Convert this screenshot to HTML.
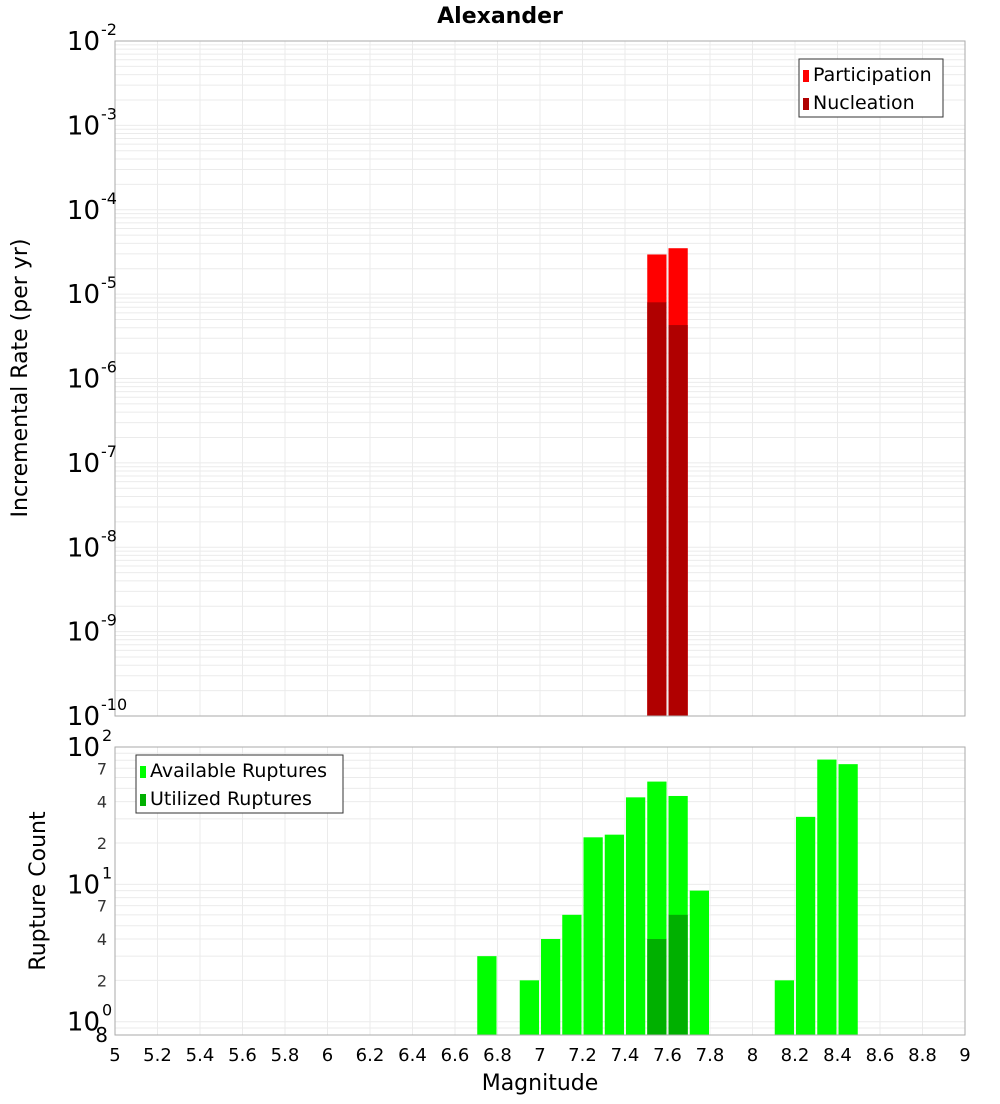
<!DOCTYPE html>
<html><head><meta charset="utf-8"><style>
body{margin:0;background:#fff;font-family:"DejaVu Sans","Liberation Sans",sans-serif}
svg text{font-family:"DejaVu Sans","Liberation Sans",sans-serif}
</style></head><body>
<svg id="c" width="1000" height="1100" xmlns="http://www.w3.org/2000/svg">
<text x="500" y="23" text-anchor="middle" font-size="22" font-weight="bold">Alexander</text>
<text transform="translate(27,378) rotate(-90)" text-anchor="middle" font-size="22">Incremental Rate (per yr)</text>
<text transform="translate(45,891) rotate(-90)" text-anchor="middle" font-size="22">Rupture Count</text>
<text x="540" y="1090" text-anchor="middle" font-size="22">Magnitude</text>
<g id="g"></g>
</svg>
<script>
const binCenters=[7.55,7.65];
const participation=[2.95e-5,3.5e-5];
const nucleation=[8e-6,4.3e-6];
const countMags=[6.75,6.95,7.05,7.15,7.25,7.35,7.45,7.55,7.65,7.75,8.15,8.25,8.35,8.45];
const available=[3,2,4,6,22,23,43,56,44,9,2,31,81,75];
const utilMags=[7.55,7.65];
const utilized=[4,6];
const xTicks=[5,5.2,5.4,5.6,5.8,6,6.2,6.4,6.6,6.8,7,7.2,7.4,7.6,7.8,8,8.2,8.4,8.6,8.8,9];
const topExp=[-10,-9,-8,-7,-6,-5,-4,-3,-2];
const botMinor=[2,4,7,20,40,70];

const NS='http://www.w3.org/2000/svg';
const g=document.getElementById('g');
const L=115,R=965,T1=41,B1=716,T2=747,B2=1035;
const X=m=>L+(m-5)/4*(R-L);
const Y1=v=>B1-(Math.log10(v)+10)/8*(B1-T1);
const bLo=Math.log10(0.8),bHi=2;
const Y2=v=>B2-(Math.log10(v)-bLo)/(bHi-bLo)*(B2-T2);
function el(t,a,txt){const e=document.createElementNS(NS,t);for(const k in a)e.setAttribute(k,a[k]);if(txt!==undefined)e.textContent=txt;g.appendChild(e);return e;}
el('rect',{x:L,y:T1,width:R-L,height:B1-T1,fill:'#fff'});
for(let e=-10;e<-2;e++)for(let k=1;k<10;k++){const y=Y1(k*Math.pow(10,e));if(y<T1)continue;const l=el('line',{x1:L,x2:R,y1:y,y2:y,stroke:'#ebebeb','stroke-width':1});

}
for(const t of xTicks){const x=X(t);el('line',{x1:x,x2:x,y1:T1,y2:B1,stroke:'#ebebeb'});el('line',{x1:x,x2:x,y1:T2,y2:B2,stroke:'#ebebeb'});}
for(let e=-1;e<2;e++)for(let k=1;k<10;k++){const v=k*Math.pow(10,e);if(v<0.8)continue;const y=Y2(v);el('line',{x1:L,x2:R,y1:y,y2:y,stroke:'#ebebeb'});}
const bw=(R-L)/40;
binCenters.forEach((m,i)=>{
 const x=X(m)-bw/2+1;
 const p=el('rect',{x:x,y:Y1(participation[i]),width:bw-2,height:B1-Y1(participation[i]),fill:'#ff0000'});
 
 
 const n=el('rect',{x:x,y:Y1(nucleation[i]),width:bw-2,height:B1-Y1(nucleation[i]),fill:'#b00000'});
 
 
});
countMags.forEach((m,i)=>{
 const x=X(m)-bw/2+1;
 const r=el('rect',{x:x,y:Y2(available[i]),width:bw-2,height:B2-Y2(available[i]),fill:'#00ff00'});
 
 
});
utilMags.forEach((m,i)=>{
 const x=X(m)-bw/2+1;
 const r=el('rect',{x:x,y:Y2(utilized[i]),width:bw-2,height:B2-Y2(utilized[i]),fill:'#00b000'});
 
 
});
el('rect',{x:L,y:T1,width:R-L,height:B1-T1,fill:'none',stroke:'#aaa'});
el('rect',{x:L,y:T2,width:R-L,height:B2-T2,fill:'none',stroke:'#aaa'});
topExp.forEach(e=>{const y=Y1(Math.pow(10,e));
 const t=el('text',{x:100,y:y+9,'text-anchor':'end','font-size':26},'10');
 
 
 el('text',{x:101,y:y-6,'font-size':16},String(e));});
[[100,'2'],[10,'1'],[1,'0']].forEach(([v,s])=>{const y=Y2(v);
 const t=el('text',{x:100,y:y+9,'text-anchor':'end','font-size':26},'10');
 
 
 el('text',{x:102,y:y-6,'font-size':16},s);});
botMinor.forEach(v=>{const y=Y2(v);el('text',{x:107,y:y+6,'text-anchor':'end','font-size':16,fill:'#333'},String(v).charAt(0));});
el('text',{x:108,y:1042,'text-anchor':'end','font-size':20},'8');
xTicks.forEach(t=>{const e=el('text',{x:X(t),y:1061,'text-anchor':'middle','font-size':18},String(t));
 
 });
function legend(x,y,w,items,name){const gr=el('rect',{x:x,y:y,width:w,height:58,fill:'#fff',stroke:'#333'});
 
 
 items.forEach(([c,s],i)=>{el('rect',{x:x+4,y:y+11+i*28,width:6,height:12,fill:c});
 const t=el('text',{x:x+14,y:y+22+i*28,'font-size':19},s);
 
 });}
legend(799,59,144,[['#ff0000','Participation'],['#b00000','Nucleation']],'top-legend');
legend(136,755,207,[['#00ff00','Available Ruptures'],['#00b000','Utilized Ruptures']],'bottom-legend');
</script>
</body></html>
